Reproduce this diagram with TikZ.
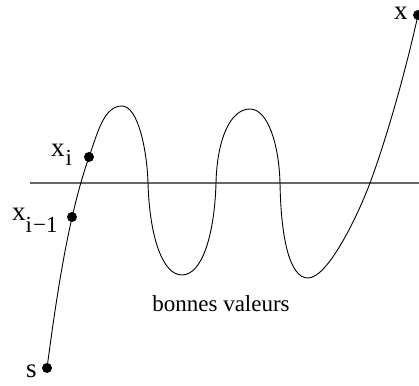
\documentclass[tikz,border=0pt]{standalone}
\usepackage{fontspec}
\setmainfont{Liberation Serif}
\begin{document}
\begin{tikzpicture}[x=1pt,y=-1pt,
  dotmark/.style={circle,fill=black,inner sep=0pt,minimum size=10pt},
  lbl/.style={inner sep=0pt,anchor=base west,font=\fontsize{27}{30}\selectfont},
  curve/.style={line width=0.9pt,black},
  level/.style={line width=1.4pt,black!60}]
\useasboundingbox (0,0) rectangle (419,385);
\coordinate (L1) at (30,183);
\coordinate (L2) at (419,183);
\draw[level] (L1) -- (L2);
\node[dotmark] (s) at (47,368) {};
\node[dotmark] (xim) at (72,217) {};
\node[dotmark] (xi) at (89,157) {};
\node[dotmark] (xn) at (418,15) {};
\draw[curve] (s.center) .. controls (56.5,297) and (68,217) .. (89,157)
  .. controls (97.8,132) and (104,106) .. (122,106)
  .. controls (138,106) and (147,150) .. (148,183)
  .. controls (149.5,235) and (162,275) .. (182,275)
  .. controls (202,275) and (214.5,235) .. (216,183)
  .. controls (217,140) and (230,109) .. (250,109)
  .. controls (268,109) and (279,145) .. (280,183)
  .. controls (281,240) and (290,278) .. (308,278)
  .. controls (328,278) and (358,215) .. (370,183)
  .. controls (388.5,133) and (407,65) .. (xn.center);
\node[lbl] (lxi) at (51,156) {x\kern1pt\raisebox{-9pt}{\fontsize{23}{23}\selectfont i}};
\node[lbl] (lxim) at (12,220) {x\raisebox{-12pt}{\fontsize{23}{23}\selectfont i\kern1pt−1}};
\node[lbl] (ls) at (26,377) {s};
\node[lbl] (lxn) at (394,20) {x};
\node[inner sep=0pt,anchor=base,font=\fontsize{23}{28}\selectfont] (bv) at (221,311) {bonnes valeurs};
\end{tikzpicture}
\end{document}
